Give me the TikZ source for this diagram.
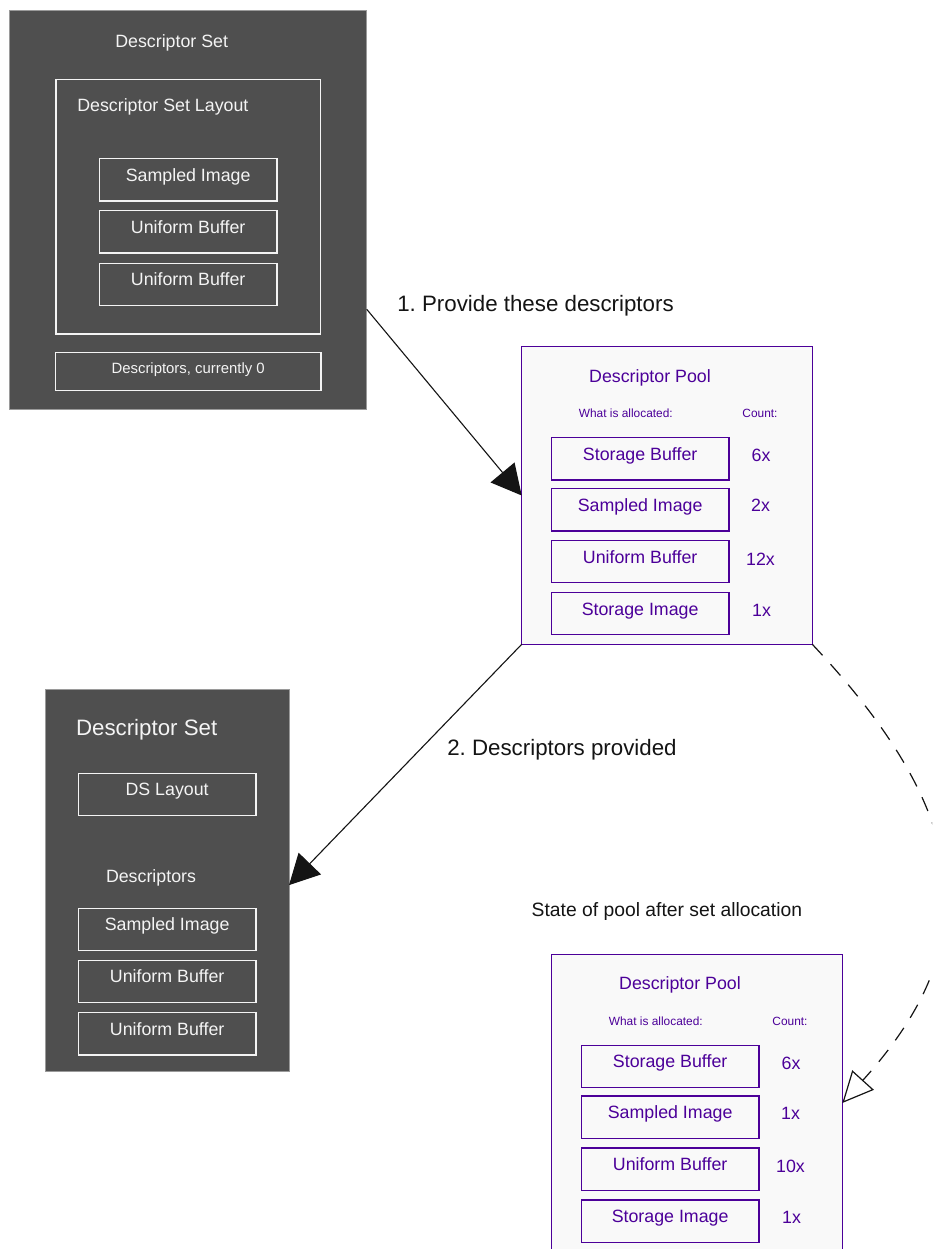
\documentclass[tikz,border=0pt]{standalone}
\usepackage{fontspec}
\setmainfont{Liberation Sans}
\usetikzlibrary{arrows.meta,calc}
\frenchspacing

\definecolor{setfill}{HTML}{4F4F4F}
\definecolor{setedge}{HTML}{9A9A9A}
\definecolor{inkwhite}{HTML}{F4F4F4}
\definecolor{poolfill}{HTML}{F9F9F9}
\definecolor{poolpurple}{HTML}{4C0099}
\definecolor{inkblack}{HTML}{141414}

\newcommand\fsmed{\fontsize{17.8}{21}\selectfont}
\newcommand\fsbig{\fontsize{22.3}{26}\selectfont}
\newcommand\fsstate{\fontsize{19.3}{23}\selectfont}
\newcommand\fsnote{\fontsize{14.9}{18}\selectfont}
\newcommand\fssmall{\fontsize{11.9}{14}\selectfont}

\tikzset{
  every node/.style={inner sep=0pt, outer sep=0pt},
  setpanel/.style={fill=setfill, draw=setedge, line width=0.6pt},
  poolpanel/.style={fill=poolfill, draw=poolpurple, line width=1.4pt},
  itembox/.style={minimum width=177.7pt, minimum height=42.3pt,
    text height=12pt, text depth=9pt, font=\fsmed},
  whitebox/.style={itembox, draw=inkwhite, line width=1.3pt, text=inkwhite},
  purplebox/.style={itembox, draw=poolpurple, line width=1.3pt, text=poolpurple},
  whitetext/.style={text=inkwhite},
  purpletext/.style={text=poolpurple},
  flowlabel/.style={text=inkblack, font=\fsbig, anchor=base west},
  flow/.style={draw=inkblack, line width=1.1pt, -{Triangle[length=30pt,width=31pt]}},
  afterflow/.style={draw=inkblack, line width=1.2pt, dash pattern=on 15pt off 12pt,
    -{Triangle[open,length=31pt,width=29pt]}},
}

% one descriptor pool panel; #1 name prefix, #2-#5 the counts
\newcommand\poolblock[5]{%
  \node[poolpanel, minimum width=290.6pt, minimum height=297.6pt] (#1) at (667,495.5) {};
  \node[purpletext, font=\fsmed, anchor=base] (#1-title) at (650,382.3) {Descriptor Pool};
  \node[purpletext, font=\fssmall, anchor=base] (#1-what) at (625.8,417.7) {What is allocated:};
  \node[purpletext, font=\fssmall, anchor=base] (#1-count) at (760,417.7) {Count:};
  \node[purplebox] (#1-sb) at (640.15,458.85) {Storage Buffer};
  \node[purplebox] (#1-si) at (640.15,509.7) {Sampled Image};
  \node[purplebox] (#1-ub) at (640.15,561.5) {Uniform Buffer};
  \node[purplebox] (#1-st) at (640.15,613.5) {Storage Image};
  \node[purpletext, font=\fsmed, anchor=base] (#1-n1) at (761,461.7) {#2};
  \node[purpletext, font=\fsmed, anchor=base] (#1-n2) at (760.5,511.7) {#3};
  \node[purpletext, font=\fsmed, anchor=base] (#1-n3) at (760.5,565) {#4};
  \node[purpletext, font=\fsmed, anchor=base] (#1-n4) at (761.5,616) {#5};
}

\begin{document}
\begin{tikzpicture}[x=1pt, y=-1pt]
  \useasboundingbox (0,0) rectangle (932,1249);
  \fill[white] (0,0) rectangle (932,1249);
  \clip (0,0) rectangle (932,1249);

  % descriptor set before allocation
  \node[setpanel, minimum width=357.4pt, minimum height=399pt] (set1) at (188,209.5) {};
  \node[whitetext, font=\fsmed, anchor=base] (set1-title) at (171.7,47.7) {Descriptor Set};
  \node[draw=inkwhite, line width=1.3pt, minimum width=264.7pt, minimum height=254.7pt] (layout) at (188.35,206.65) {};
  \node[whitetext, font=\fsmed, anchor=base west] (layout-title) at (77.3,111.7) {Descriptor Set Layout};
  \node[whitebox] (lay-si) at (188.15,179.85) {Sampled Image};
  \node[whitebox] (lay-ub1) at (188.15,232) {Uniform Buffer};
  \node[whitebox] (lay-ub2) at (188.15,284.3) {Uniform Buffer};
  \node[whitebox, minimum width=265.7pt, minimum height=37.6pt, font=\fsnote,
        text height=10pt, text depth=6.4pt] (desc0) at (188.15,371.5) {Descriptors, currently 0};

  % pool before allocation
  \poolblock{pool1}{6x}{2x}{12x}{1x}

  % descriptor set after allocation
  \node[setpanel, minimum width=243.3pt, minimum height=381.7pt] (set2) at (167.35,880.15) {};
  \node[whitetext, font=\fsbig, anchor=base west] (set2-title) at (76,735) {Descriptor Set};
  \node[whitebox] (ds-layout) at (167.15,794.3) {DS Layout};
  \node[whitetext, font=\fsmed, anchor=base west] (set2-desc) at (106,882.7) {Descriptors};
  \node[whitebox] (ds-si) at (167.15,929.3) {Sampled Image};
  \node[whitebox] (ds-ub1) at (167.15,981.3) {Uniform Buffer};
  \node[whitebox] (ds-ub2) at (167.15,1033.7) {Uniform Buffer};

  % pool after allocation
  \node[text=inkblack, font=\fsstate, anchor=base west] (state) at (531.7,916.7) {State of pool after set allocation};
  \begin{scope}[shift={(30,607.5)}]
    \poolblock{pool2}{6x}{1x}{10x}{1x}
  \end{scope}

  % connectors
  \draw[flow] ($(set1.north east)!0.75!(set1.south east)$) -- (pool1.west);
  \node[flowlabel] (lbl1) at (397.3,311.7) {1. Provide these descriptors};
  \draw[flow] (pool1.south west) -- ($(set2.east)+(0,5)$);
  \node[flowlabel] (lbl2) at (447.3,755) {2. Descriptors provided};
  \draw[afterflow] (pool1.south east) .. controls (977.6,820.2) and (983.7,946.6) .. (pool2.east);
\end{tikzpicture}
\end{document}
